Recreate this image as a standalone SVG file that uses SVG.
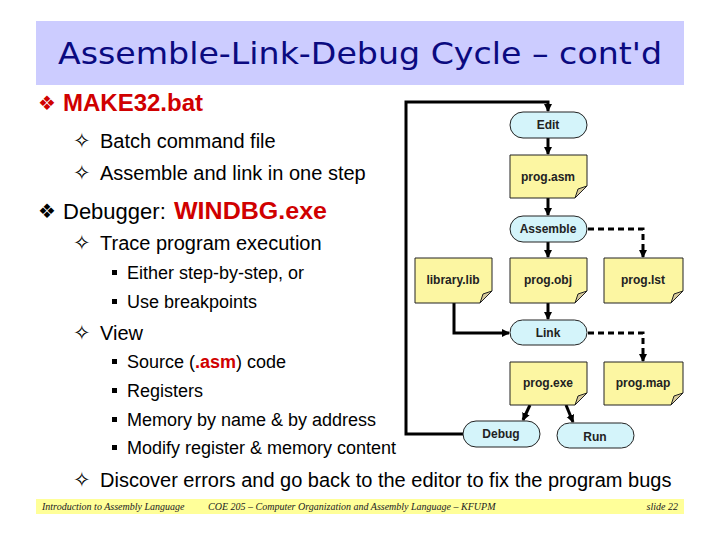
<svg xmlns="http://www.w3.org/2000/svg" width="720" height="540" viewBox="0 0 720 540">
<style>
.t{font-family:"Liberation Sans",Arial,sans-serif;fill:#000}
.l1{font-size:22px}
.l2{font-size:20px}
.l3{font-size:18px}
.red{fill:#d00000;font-weight:bold}
.sym{font-family:"DejaVu Sans",sans-serif}
.s1{font-size:20px}
.s2{font-size:21px}
.proc{fill:#d4f4fa;stroke:#222;stroke-width:1}
.doc{fill:#fcf6a2;stroke:#222;stroke-width:1}
.fold{fill:#d6c99a;stroke:#222;stroke-width:1}
.nt{font-family:"Liberation Sans",Arial,sans-serif;font-size:12px;font-weight:bold;fill:#222;text-anchor:middle}
.ln{fill:none;stroke:#000;stroke-width:3}
.dl{fill:none;stroke:#000;stroke-width:3;stroke-dasharray:6 4}
.ft{font-family:"Liberation Serif","Times New Roman",serif;font-style:italic;font-size:10px;fill:#222}
</style>
<defs>
<marker id="ah" markerUnits="userSpaceOnUse" markerWidth="10" markerHeight="10" refX="7" refY="4" orient="auto">
<path d="M0,0 L8,4 L0,8 Z" fill="#000"/>
</marker>
</defs>
<rect x="36" y="21" width="648" height="64" fill="#ccccff"/>
<text x="360" y="64" text-anchor="middle" font-family="'DejaVu Sans',sans-serif" font-size="31" fill="#0a0a80" textLength="604" lengthAdjust="spacingAndGlyphs">Assemble-Link-Debug Cycle – cont'd</text>

<text class="sym s1" x="38" y="110" fill="#d00000">❖</text>
<text class="t red" x="63" y="111" font-size="24">MAKE32.bat</text>
<text class="sym s2" x="73" y="148">✧</text>
<text class="t l2" x="100" y="148">Batch command file</text>
<text class="sym s2" x="73" y="180">✧</text>
<text class="t l2" x="100" y="180">Assemble and link in one step</text>
<text class="sym s1" x="38" y="218">❖</text>
<text class="t l1" x="63" y="219">Debugger:</text>
<text class="t red" x="174" y="219" font-size="24" textLength="153" lengthAdjust="spacingAndGlyphs">WINDBG.exe</text>
<text class="sym s2" x="73" y="250">✧</text>
<text class="t l2" x="100" y="250">Trace program execution</text>
<rect x="112" y="270" width="5" height="5"/>
<text class="t l3" x="127" y="279">Either step-by-step, or</text>
<rect x="112" y="299" width="5" height="5"/>
<text class="t l3" x="127" y="308">Use breakpoints</text>
<text class="sym s2" x="73" y="340">✧</text>
<text class="t l2" x="100" y="340">View</text>
<rect x="112" y="359" width="5" height="5"/>
<text class="t l3" x="127" y="368">Source (<tspan class="red">.asm</tspan>) code</text>
<rect x="112" y="388" width="5" height="5"/>
<text class="t l3" x="127" y="397">Registers</text>
<rect x="112" y="417" width="5" height="5"/>
<text class="t l3" x="127" y="426">Memory by name &amp; by address</text>
<rect x="112" y="445" width="5" height="5"/>
<text class="t l3" x="127" y="454">Modify register &amp; memory content</text>
<text class="sym s2" x="73" y="487">✧</text>
<text class="t l2" x="100" y="487">Discover errors and go back to the editor to fix the program bugs</text>

<rect x="36" y="499" width="648" height="15" fill="#ffff99"/>
<text class="ft" x="42" y="510">Introduction to Assembly Language</text>
<text class="ft" x="208" y="510">COE 205 – Computer Organization and Assembly Language – KFUPM</text>
<text class="ft" x="678" y="510" text-anchor="end">slide 22</text>

<g id="connectors">
<path class="ln" d="M463,434 H406 V102 H548 V111" marker-end="url(#ah)"/>
<path class="ln" d="M548,138 V154" marker-end="url(#ah)"/>
<path class="ln" d="M548,198 V215" marker-end="url(#ah)"/>
<path class="ln" d="M548,242 V257" marker-end="url(#ah)"/>
<path class="dl" d="M588,229 H643 V257" marker-end="url(#ah)"/>
<path class="ln" d="M548,303 V319" marker-end="url(#ah)"/>
<path class="ln" d="M454,303 V333 H509" marker-end="url(#ah)"/>
<path class="dl" d="M588,333 H643 V361" marker-end="url(#ah)"/>
<path class="ln" d="M530,405 L523,420" marker-end="url(#ah)"/>
<path class="ln" d="M566,405 L573,422" marker-end="url(#ah)"/>
</g>

<g id="edit"><rect class="proc" x="510" y="112" width="77" height="26" rx="13"/><text class="nt" x="548" y="129">Edit</text></g>
<g id="progasm"><path class="doc" d="M510,155 H587 V186 L575,198 H510 Z"/><path class="fold" d="M575,198 L578,189 L587,186 Z"/><text class="nt" x="548" y="181">prog.asm</text></g>
<g id="assemble"><rect class="proc" x="510" y="216" width="77" height="26" rx="13"/><text class="nt" x="548" y="233">Assemble</text></g>
<g id="librarylib"><path class="doc" d="M415,258 H492 V291 L480,303 H415 Z"/><path class="fold" d="M480,303 L483,294 L492,291 Z"/><text class="nt" x="453" y="284">library.lib</text></g>
<g id="progobj"><path class="doc" d="M510,258 H587 V291 L575,303 H510 Z"/><path class="fold" d="M575,303 L578,294 L587,291 Z"/><text class="nt" x="548" y="284">prog.obj</text></g>
<g id="proglst"><path class="doc" d="M604,258 H683 V291 L671,303 H604 Z"/><path class="fold" d="M671,303 L674,294 L683,291 Z"/><text class="nt" x="643" y="284">prog.lst</text></g>
<g id="link"><rect class="proc" x="510" y="320" width="77" height="25" rx="12.5"/><text class="nt" x="548" y="337">Link</text></g>
<g id="progexe"><path class="doc" d="M510,362 H587 V393 L575,405 H510 Z"/><path class="fold" d="M575,405 L578,396 L587,393 Z"/><text class="nt" x="548" y="387">prog.exe</text></g>
<g id="progmap"><path class="doc" d="M604,362 H683 V393 L671,405 H604 Z"/><path class="fold" d="M671,405 L674,396 L683,393 Z"/><text class="nt" x="643" y="387">prog.map</text></g>
<g id="debug"><rect class="proc" x="463" y="421" width="77" height="26" rx="13"/><text class="nt" x="501" y="438">Debug</text></g>
<g id="run"><rect class="proc" x="557" y="423" width="77" height="25" rx="12.5"/><text class="nt" x="595" y="441">Run</text></g>
</svg>
